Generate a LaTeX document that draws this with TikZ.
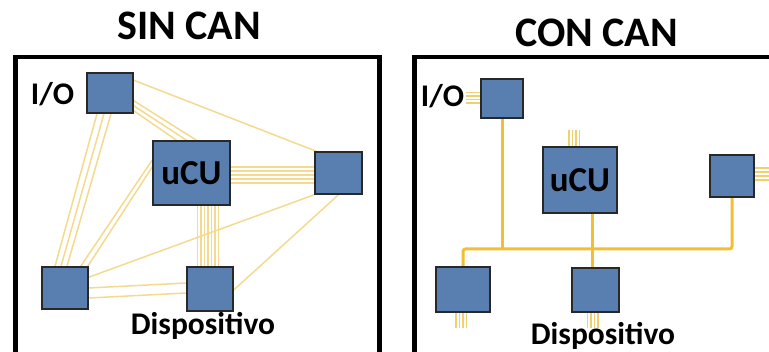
\documentclass[tikz,border=0pt]{standalone}
\usepackage{fontspec}
\setmainfont{Carlito}
\usetikzlibrary{calc,backgrounds}
\definecolor{boxblue}{RGB}{89,127,177}
\definecolor{boxline}{RGB}{40,40,40}
\definecolor{wirecol}{RGB}{243,218,142}
\definecolor{stubcol}{RGB}{241,208,112}
\definecolor{buscol}{RGB}{240,192,50}
\tikzset{
  blk/.style={draw=boxline, line width=1.5pt, fill=boxblue, inner sep=0pt, anchor=center},
  frame/.style={draw=black, line width=4.5pt},
  wire/.style={draw=wirecol, line width=1.5pt},
  stub/.style={draw=stubcol, line width=1.3pt},
  bus/.style={draw=buscol, line width=3pt, rounded corners=2.5pt},
  title/.style={font=\bfseries\fontsize{42}{42}\selectfont, inner sep=0pt},
  lbl/.style={font=\bfseries\fontsize{31.5}{32}\selectfont, inner sep=0pt, anchor=base},
  ulbl/.style={font=\bfseries\fontsize{35}{35}\selectfont}
}
\begin{document}
\begin{tikzpicture}[x=1pt,y=-1pt]
\useasboundingbox (0,0) rectangle (769,352);
\clip (0,0) rectangle (769,352);

% titles
\node[title] (t1) at (189,26) {SIN CAN};
\node[title] (t2) at (596.5,32.5) {CON CAN};

% frames
\draw[frame] (15.5,380) -- (15.5,57) -- (379.5,57) -- (379.5,380);
\draw[frame] (414.5,380) -- (414.5,57) -- (790,57);

% ---------- left panel ----------
\node[blk, minimum width=46pt, minimum height=40pt] (Lio) at (110,93) {};
\node[blk, minimum width=77pt, minimum height=64pt, ulbl] (Lucu) at (191.5,173) {uCU};
\node[blk, minimum width=47pt, minimum height=42pt] (Lr) at (338.5,173) {};
\node[blk, minimum width=46pt, minimum height=42pt] (Lbl) at (65,288) {};
\node[blk, minimum width=46pt, minimum height=44pt] (Lbm) at (210,289) {};

\begin{scope}[on background layer]
\draw[wire] ($(Lio.south)+(-13,0)$) -- ($(Lbl.north)+(-10,0)$);
\draw[wire] ($(Lio.south)+(-6,0)$) -- ($(Lbl.north)+(-4,0)$);
\draw[wire] ($(Lio.south)+(1,0)$) -- ($(Lbl.north)+(2,0)$);

\draw[wire] ($(Lio.south east)+(0,-13)$) -- ($(Lucu.north)+(5,0)$);
\draw[wire] ($(Lio.south east)+(0,-8)$) -- ($(Lucu.north)+(-5,0)$);
\draw[wire] ($(Lio.south east)+(0,-3)$) -- ($(Lucu.north)+(-15,0)$);

\draw[wire] ($(Lio.north east)+(0,8)$) -- ($(Lr.north west)+(2,0)$);

\foreach \d in {-6,-2,2,6,10}
  \draw[wire] ($(Lucu.east)+(0,\d)$) -- ($(Lr.west)+(0,\d)$);

\foreach \d in {6,9.5,13,16.5,20,23.5,27}{
  \coordinate (vb) at ($(Lucu.south)+(\d,0)$);
  \draw[wire] (vb) -- (vb |- Lbm.north);
}

\draw[wire] ($(Lbl.north east)+(-8,0)$) -- ($(Lucu.west)+(0,-13)$);
\draw[wire] ($(Lbl.north east)+(-1,0)$) -- ($(Lucu.west)+(0,-6)$);

\draw[wire] ($(Lbl.north east)+(0,11)$) -- (Lr.south west);

\draw[wire] (Lbl.east) -- ($(Lbm.west)+(0,-6)$);
\draw[wire] ($(Lbl.east)+(0,10)$) -- ($(Lbm.west)+(0,4)$);

\draw[wire] ($(Lbm.east)+(0,1)$) -- (Lr.south);
\end{scope}

\node[lbl] (lio) at (52.5,105) {I/O};
\node[lbl] (ldev) at (203,335) {Dispositivo};

% ---------- right panel ----------
\coordinate (busL) at (464,249);
\coordinate (busR) at (732,249);

\node[blk, minimum width=42pt, minimum height=39pt] (Rio) at (502,98.5) {};
\node[blk, minimum width=74pt, minimum height=66pt, ulbl] (Rucu) at (580,180) {uCU};
\node[blk, minimum width=44pt, minimum height=42pt] (Rr) at (732,176) {};
\node[blk, minimum width=54pt, minimum height=45pt] (Rbl) at (463,289.5) {};
\node[blk, minimum width=47pt, minimum height=44pt] (Rbm) at (595.5,290) {};

\begin{scope}[on background layer]
\draw[bus] (Rbl.north) -- (Rbl.north |- busL) -- (busR) -- (Rr.south);
\draw[bus] (Rio.south) -- (Rio.south |- busL);
\coordinate (ub) at ($(Rucu.south)+(12,0)$);
\draw[bus] (ub) -- (ub |- Rbm.north);

\foreach \d in {-6,-2.5,1,4.5}
  \draw[stub] ($(Rio.west)+(0,\d)$) -- ++(-14,0);
\foreach \d in {-11,-7.5,-4,-0.5}
  \draw[stub] ($(Rucu.north)+(\d,0)$) -- ++(0,-16);
\foreach \d in {-8,-4,0,4}
  \draw[stub] ($(Rr.east)+(0,\d)$) -- ++(15,0);
\foreach \d in {-7,-3.5,0,3.5}
  \draw[stub] ($(Rbl.south)+(\d,0)$) -- ++(0,15);
\foreach \d in {-8,-4.5,-1,2.5}
  \draw[stub] ($(Rbm.south)+(\d,0)$) -- ++(0,15);
\end{scope}

\node[lbl] (rio) at (442.5,107) {I/O};
\node[lbl] (rdev) at (603,345) {Dispositivo};
\end{tikzpicture}
\end{document}
